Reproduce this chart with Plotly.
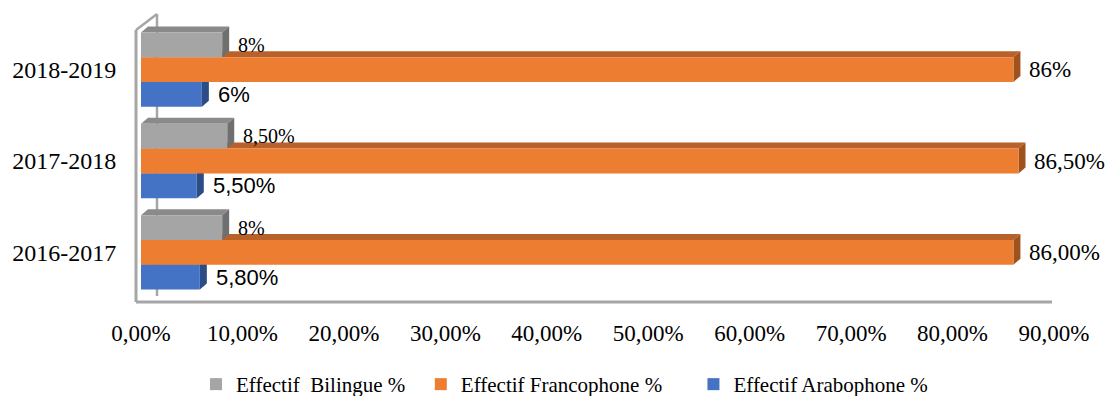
import plotly.graph_objects as go

# ---- data ----
categories = ["2016-2017", "2017-2018", "2018-2019"]
series_names = ["Effectif\u00a0 Bilingue %\u00a0\u00a0",
                "Effectif Francophone %\u00a0\u00a0\u00a0\u00a0\u00a0",
                "Effectif Arabophone %"]
bilingue = [8.0, 8.5, 8.0]
francophone = [86.0, 86.5, 86.0]
arabophone = [5.8, 5.5, 6.0]
bilingue_labels = ["8%", "8,50%", "8%"]
francophone_labels = ["86,00%", "86,50%", "86%"]
arabophone_labels = ["5,80%", "5,50%", "6%"]
x_tick_values = [0, 10, 20, 30, 40, 50, 60, 70, 80, 90]
x_tick_labels = ["0,00%", "10,00%", "20,00%", "30,00%", "40,00%",
                 "50,00%", "60,00%", "70,00%", "80,00%", "90,00%"]

# ---- style ----
W, H = 1114, 396
ML, MR, MT, MB = 141, 60, 24, 98
PW, PH = W - ML - MR, H - MT - MB
XMAX = 90
BARGAP = 0.187
BW = (1 - BARGAP) / 3
SERIF = "Liberation Serif, Times New Roman, serif"
SANS = "Liberation Sans, Arial, sans-serif"

front = {"bil": "#A5A5A5", "fra": "#ED7D31", "ara": "#4472C4"}
topc = {"bil": "#8A8A8A", "fra": "#B8612A", "ara": "#36609F"}
sidec = {"bil": "#6F6F6F", "fra": "#A0521C", "ara": "#2C4C85"}

ypos = list(range(len(categories)))
DX = 7 / (PW / XMAX)          # depth in x data units (7 px)
DY = 6 / (PH / len(categories))  # depth in y data units (6 px)

series = [
    ("ara", series_names[2], arabophone, arabophone_labels, -BW, SANS, 22, "#000000"),
    ("fra", series_names[1], francophone, francophone_labels, 0.0, SERIF, 23, "#000000"),
    ("bil", series_names[0], bilingue, bilingue_labels, BW, SERIF, 20, "#000000"),
]

fig = go.Figure()
shapes = []
annotations = []

for key, name, vals, labs, off, ffam, fsize, fcol in series:
    fig.add_trace(go.Bar(
        y=ypos, x=vals, orientation="h", name=name,
        marker=dict(color=front[key], line=dict(width=0)),
        offset=off - BW / 2, width=BW, hoverinfo="skip",
    ))
    for i, v in zip(ypos, vals):
        yt = i + off + BW / 2
        yb = i + off - BW / 2
        shapes.append(dict(
            type="path", xref="x", yref="y", layer="below",
            path=f"M 0,{yt} L {v},{yt} L {v+DX},{yt+DY} L {DX},{yt+DY} Z",
            fillcolor=topc[key], line=dict(width=0)))
        shapes.append(dict(
            type="path", xref="x", yref="y", layer="below",
            path=f"M {v},{yb} L {v},{yt} L {v+DX},{yt+DY} L {v+DX},{yb+DY} Z",
            fillcolor=sidec[key], line=dict(width=0)))
    for i, v, t in zip(ypos, vals, labs):
        annotations.append(dict(
            x=v, y=i + off, xref="x", yref="y", text=t, showarrow=False,
            xanchor="left", yanchor="middle", xshift=DX * (PW / XMAX) + 7,
            font=dict(family=ffam, size=fsize, color=fcol)))


def px_x(p):
    return (p - ML) / PW


def px_y(p):
    return (H - MB - p) / PH


frame_col = "#A6A6A6"
frame = [
    ((136, 30), (136, 302), 3),
    ((136, 30), (157, 14), 2.5),
    ((157, 14), (157, 296), 2.5),
    ((136, 302), (1052, 302), 3),
]
for (x0, y0), (x1, y1), lw in frame:
    shapes.insert(0, dict(type="line", xref="paper", yref="paper", layer="below",
                          x0=px_x(x0), y0=px_y(y0), x1=px_x(x1), y1=px_y(y1),
                          line=dict(color=frame_col, width=lw)))

fig.update_layout(
    width=W, height=H,
    margin=dict(l=ML, r=MR, t=MT, b=MB, autoexpand=False),
    paper_bgcolor="white", plot_bgcolor="white",
    barmode="group", bargap=BARGAP, bargroupgap=0,
    shapes=shapes, annotations=annotations,
    showlegend=True,
    legend=dict(orientation="h", traceorder="reversed",
                x=px_x(196), xanchor="left", y=px_y(364), yanchor="top",
                font=dict(family=SERIF, size=21, color="#000000"),
                bgcolor="rgba(0,0,0,0)", itemclick=False),
    xaxis=dict(range=[0, XMAX], tickvals=x_tick_values, ticktext=x_tick_labels,
               showgrid=False, zeroline=False, showline=False,
               ticks="outside", ticklen=14, tickcolor="rgba(0,0,0,0)",
               tickfont=dict(family=SERIF, size=23, color="#000000")),
    yaxis=dict(range=[-0.5, len(categories) - 0.5], tickvals=ypos, ticktext=categories,
               showgrid=False, zeroline=False, showline=False,
               ticks="outside", ticklen=19, tickcolor="rgba(0,0,0,0)",
               tickfont=dict(family=SERIF, size=24, color="#000000")),
)

fig.write_html("out.html")
